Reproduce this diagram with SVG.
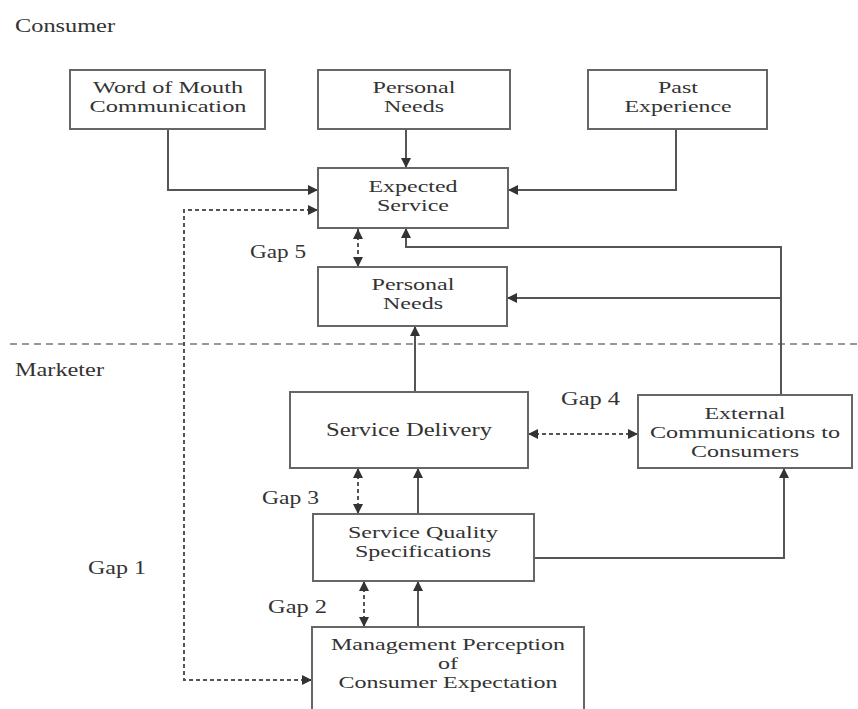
<svg xmlns="http://www.w3.org/2000/svg" width="858" height="709" viewBox="0 0 858 709">
<style>
.box{fill:#fff;stroke:#666;stroke-width:2}
.t{font-family:"Liberation Serif","Times New Roman",serif;font-size:17px;fill:#333;text-anchor:middle}
.t1{font-family:"Liberation Serif","Times New Roman",serif;font-size:19px;fill:#333;text-anchor:middle}
.l{font-family:"Liberation Serif","Times New Roman",serif;font-size:19px;fill:#333}
.c{fill:none;stroke:#555;stroke-width:2}
.d{fill:none;stroke:#555;stroke-width:2;stroke-dasharray:4 3}
.sep{fill:none;stroke:#777;stroke-width:1.5;stroke-dasharray:7 5}
</style>
<defs>
<marker id="ah" viewBox="0 0 10 10" refX="10" refY="5" markerWidth="11" markerHeight="10" markerUnits="userSpaceOnUse" orient="auto-start-reverse">
<path d="M0,0 L10,5 L0,10 z" fill="#333"/>
</marker>
</defs>
<rect width="858" height="709" fill="#fff"/>
<text class="l" x="15" y="32" textLength="100" lengthAdjust="spacingAndGlyphs">Consumer</text>
<text class="l" x="15" y="376" textLength="89" lengthAdjust="spacingAndGlyphs">Marketer</text>
<path class="sep" d="M10,344 H858"/>
<g id="connectors">
<path class="c" d="M168,129 V190 H318" marker-end="url(#ah)"/>
<path class="c" d="M406,129 V168" marker-end="url(#ah)"/>
<path class="c" d="M676,129 V190 H508" marker-end="url(#ah)"/>
<path class="d" d="M318,210 H184 V680 H312" marker-start="url(#ah)" marker-end="url(#ah)"/>
<path class="d" d="M358,229 V267" marker-start="url(#ah)" marker-end="url(#ah)"/>
<path class="c" d="M781,395 V247 H406 V228" marker-end="url(#ah)"/>
<path class="c" d="M781,298 H507" marker-end="url(#ah)"/>
<path class="c" d="M415,392 V326" marker-end="url(#ah)"/>
<path class="d" d="M528,434 H638" marker-start="url(#ah)" marker-end="url(#ah)"/>
<path class="d" d="M358,468 V514" marker-start="url(#ah)" marker-end="url(#ah)"/>
<path class="c" d="M418,514 V468" marker-end="url(#ah)"/>
<path class="c" d="M534,558 H784 V468" marker-end="url(#ah)"/>
<path class="d" d="M364,581 V627" marker-start="url(#ah)" marker-end="url(#ah)"/>
<path class="c" d="M418,627 V581" marker-end="url(#ah)"/>
</g>
<g id="gap-labels">
<text class="l" x="250" y="258" textLength="56" lengthAdjust="spacingAndGlyphs">Gap 5</text>
<text class="l" x="561" y="405" textLength="59" lengthAdjust="spacingAndGlyphs">Gap 4</text>
<text class="l" x="262" y="504" textLength="57" lengthAdjust="spacingAndGlyphs">Gap 3</text>
<text class="l" x="88" y="574" textLength="58" lengthAdjust="spacingAndGlyphs">Gap 1</text>
<text class="l" x="268" y="613" textLength="59" lengthAdjust="spacingAndGlyphs">Gap 2</text>
</g>
<g id="word-of-mouth">
<rect class="box" x="70" y="70" width="195" height="59"/>
<text class="t" x="168" y="93" textLength="150" lengthAdjust="spacingAndGlyphs">Word of Mouth</text>
<text class="t" x="168" y="112" textLength="157" lengthAdjust="spacingAndGlyphs">Communication</text>
</g>
<g id="personal-needs-top">
<rect class="box" x="318" y="70" width="192" height="59"/>
<text class="t" x="414" y="93" textLength="83" lengthAdjust="spacingAndGlyphs">Personal</text>
<text class="t" x="414" y="112" textLength="60" lengthAdjust="spacingAndGlyphs">Needs</text>
</g>
<g id="past-experience">
<rect class="box" x="588" y="70" width="179" height="59"/>
<text class="t" x="678" y="93" textLength="40" lengthAdjust="spacingAndGlyphs">Past</text>
<text class="t" x="678" y="112" textLength="107" lengthAdjust="spacingAndGlyphs">Experience</text>
</g>
<g id="expected-service">
<rect class="box" x="318" y="168" width="190" height="60"/>
<text class="t" x="413" y="192" textLength="89" lengthAdjust="spacingAndGlyphs">Expected</text>
<text class="t" x="413" y="211" textLength="72" lengthAdjust="spacingAndGlyphs">Service</text>
</g>
<g id="personal-needs">
<rect class="box" x="318" y="267" width="189" height="59"/>
<text class="t" x="413" y="290" textLength="83" lengthAdjust="spacingAndGlyphs">Personal</text>
<text class="t" x="413" y="309" textLength="60" lengthAdjust="spacingAndGlyphs">Needs</text>
</g>
<g id="service-delivery">
<rect class="box" x="290" y="392" width="238" height="76"/>
<text class="t1" x="409" y="436" textLength="166" lengthAdjust="spacingAndGlyphs">Service Delivery</text>
</g>
<g id="external-communications">
<rect class="box" x="638" y="395" width="214" height="73"/>
<text class="t" x="745" y="419" textLength="81" lengthAdjust="spacingAndGlyphs">External</text>
<text class="t" x="745" y="438" textLength="190" lengthAdjust="spacingAndGlyphs">Communications to</text>
<text class="t" x="745" y="457" textLength="108" lengthAdjust="spacingAndGlyphs">Consumers</text>
</g>
<g id="service-quality-specifications">
<rect class="box" x="313" y="514" width="221" height="67"/>
<text class="t" x="423" y="538" textLength="150" lengthAdjust="spacingAndGlyphs">Service Quality</text>
<text class="t" x="423" y="557" textLength="136" lengthAdjust="spacingAndGlyphs">Specifications</text>
</g>
<g id="management-perception">
<rect class="box" x="312" y="627" width="272" height="100"/>
<text class="t" x="448" y="650" textLength="234" lengthAdjust="spacingAndGlyphs">Management Perception</text>
<text class="t" x="448" y="669" textLength="20" lengthAdjust="spacingAndGlyphs">of</text>
<text class="t" x="448" y="688" textLength="219" lengthAdjust="spacingAndGlyphs">Consumer Expectation</text>
</g>
</svg>
